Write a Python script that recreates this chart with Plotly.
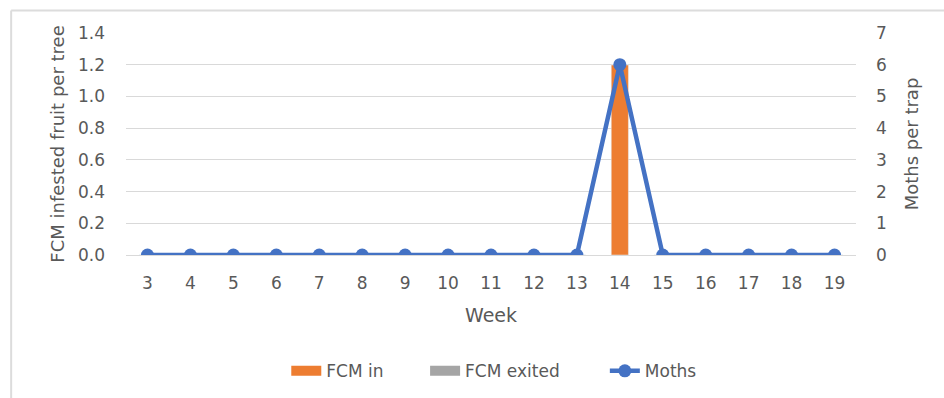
import plotly.graph_objects as go

# Weekly monitoring data
weeks = [str(w) for w in range(3, 20)]
fcm_in = [0, 0, 0, 0, 0, 0, 0, 0, 0, 0, 0, 1.2, 0, 0, 0, 0, 0]
fcm_exited = [0] * 17
moths = [0, 0, 0, 0, 0, 0, 0, 0, 0, 0, 0, 6, 0, 0, 0, 0, 0]

left_ticks = [0, 0.2, 0.4, 0.6, 0.8, 1.0, 1.2, 1.4]
right_ticks = [0, 1, 2, 3, 4, 5, 6, 7]

FONT = "DejaVu Sans, sans-serif"
TXT = "#595959"
GRID = "#d9d9d9"
ORANGE = "#ED7D31"
GREY = "#A5A5A5"
BLUE = "#4472C4"

fig = go.Figure()
fig.add_trace(go.Bar(x=weeks, y=fcm_in, name="FCM in", marker_color=ORANGE,
                     width=0.4, yaxis="y", showlegend=False))
fig.add_trace(go.Bar(x=weeks, y=fcm_exited, name="FCM exited", marker_color=GREY,
                     width=0.4, yaxis="y", showlegend=False))
fig.add_trace(go.Scatter(x=weeks, y=moths, name="Moths", mode="lines+markers",
                         line=dict(color=BLUE, width=4.5),
                         marker=dict(color=BLUE, size=13), yaxis="y2",
                         showlegend=False))

# Legend keys: wide swatches for the bar series, line-with-marker for moths,
# each placed in its own legend box along the bottom
fig.add_trace(go.Scatter(x=[None], y=[None], name="FCM in", mode="lines",
                         line=dict(color=ORANGE, width=10), legend="legend"))
fig.add_trace(go.Scatter(x=[None], y=[None], name="FCM exited", mode="lines",
                         line=dict(color=GREY, width=10), legend="legend2"))
fig.add_trace(go.Scatter(x=[None], y=[None], name="Moths", mode="lines+markers",
                         line=dict(color=BLUE, width=4.5),
                         marker=dict(color=BLUE, size=13), legend="legend3"))

# plot area in pixels: x 125.5..856.5, y 33..255.5
W_PLOT, H_PLOT = 731.0, 222.5
def px_x(p):
    return (p - 125.5) / W_PLOT
def px_y(p):
    return (255.5 - p) / H_PLOT

def legend_box(left_px):
    return dict(orientation="h", x=px_x(left_px), xanchor="left",
                y=px_y(372), yanchor="middle", bgcolor="rgba(0,0,0,0)",
                font=dict(size=17, color=TXT))

fig.update_layout(
    width=944, height=398,
    margin=dict(l=125.5, r=87.5, t=33, b=142.5, autoexpand=False),
    paper_bgcolor="white", plot_bgcolor="white",
    barmode="relative",
    font=dict(family=FONT, size=17, color=TXT),
    showlegend=True,
    legend=legend_box(286),
    legend2=legend_box(425),
    legend3=legend_box(605),
    xaxis=dict(type="category", range=[-0.5, len(weeks) - 0.5],
               showgrid=False, showline=True, linecolor=GRID,
               linewidth=1, ticks="", tickfont=dict(size=17, color=TXT),
               ticklabelstandoff=13, automargin=False,
               title=dict(text="Week", font=dict(size=19, color=TXT), standoff=16)),
    yaxis=dict(range=[0, 1.4], tickvals=left_ticks, tickformat=".1f",
               showgrid=True, gridcolor=GRID, gridwidth=1, zeroline=False,
               showline=False, ticks="", ticklabelstandoff=20, automargin=False,
               tickfont=dict(size=17, color=TXT),
               title=dict(text="FCM infested fruit per tree",
                          font=dict(size=18, color=TXT), standoff=8)),
    yaxis2=dict(range=[0, 7], tickvals=right_ticks, overlaying="y", side="right",
                showgrid=False, zeroline=False, showline=False, ticks="",
                ticklabelstandoff=19, automargin=False,
                tickfont=dict(size=17, color=TXT),
                title=dict(text="Moths per trap", font=dict(size=18, color=TXT),
                           standoff=19)),
    shapes=[
        dict(type="line", xref="paper", yref="paper",
             x0=px_x(10.5), x1=px_x(10.5), y0=px_y(10.5), y1=px_y(400),
             line=dict(color="#dcdcdc", width=2), layer="below"),
        dict(type="line", xref="paper", yref="paper",
             x0=px_x(10.5), x1=px_x(946), y0=px_y(10.5), y1=px_y(10.5),
             line=dict(color="#dcdcdc", width=2), layer="below"),
    ],
)

fig.write_html("out.html")
